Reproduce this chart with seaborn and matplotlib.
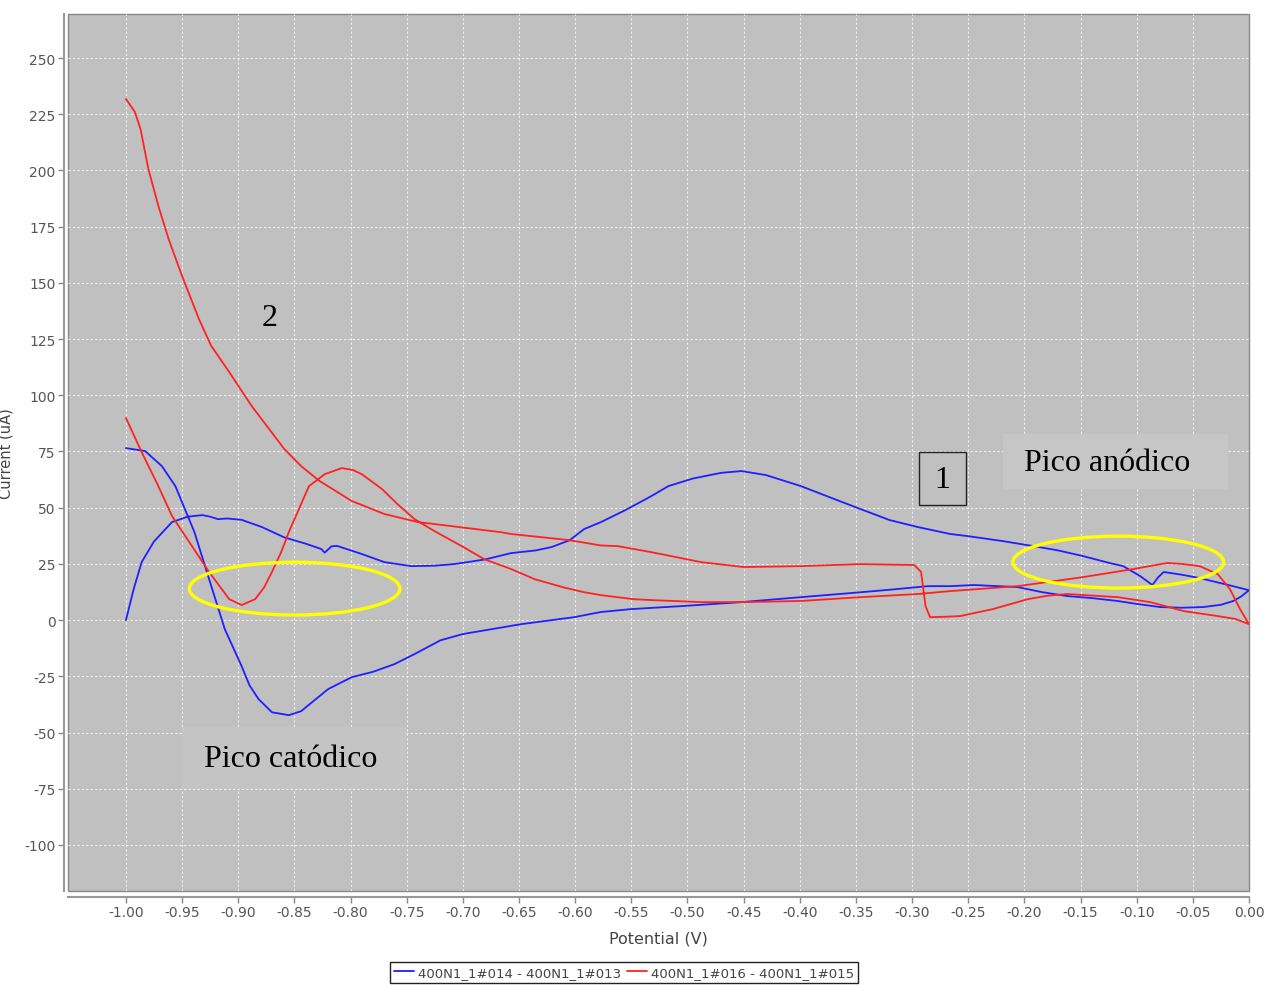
import numpy as np
import pandas as pd
import matplotlib
matplotlib.use("Agg")
import matplotlib.pyplot as plt
from matplotlib.patches import Ellipse, Rectangle
import seaborn as sns

# ---------------- data ----------------
series_names = ["400N1_1#014 - 400N1_1#013", "400N1_1#016 - 400N1_1#015"]

blue_x = [-1.000, -0.993, -0.986, -0.975, -0.959, -0.945, -0.932, -0.925, -0.918, -0.910,
          -0.897, -0.879, -0.859, -0.840, -0.826, -0.823, -0.817, -0.812, -0.790, -0.770,
          -0.746, -0.725, -0.708, -0.680, -0.657, -0.635, -0.621, -0.605, -0.592, -0.577,
          -0.555, -0.532, -0.517, -0.495, -0.470, -0.452, -0.430, -0.399, -0.370, -0.346,
          -0.320, -0.295, -0.266, -0.251, -0.220, -0.192, -0.170, -0.148, -0.125, -0.112,
          -0.097, -0.086, -0.081, -0.076, -0.060, -0.044, -0.020, 0.000,
          -0.007, -0.014, -0.025, -0.041, -0.060, -0.079, -0.100, -0.117, -0.140, -0.162,
          -0.185, -0.206, -0.245, -0.266, -0.286, -0.320, -0.355, -0.399, -0.452, -0.506,
          -0.550, -0.577, -0.601, -0.648, -0.700, -0.720, -0.743, -0.761, -0.780, -0.799,
          -0.820, -0.844, -0.855, -0.870, -0.882, -0.890, -0.897, -0.912, -0.924, -0.939,
          -0.956, -0.968, -0.983, -1.000]
blue_y = [0.0, 14.0, 25.8, 35.0, 43.6, 46.0, 46.7, 46.0, 44.9, 45.2,
          44.6, 41.4, 36.8, 34.0, 31.6, 30.0, 32.8, 33.0, 29.4, 25.8,
          24.0, 24.2, 24.9, 27.0, 29.8, 31.0, 32.5, 35.5, 40.5, 43.6,
          49.0, 55.2, 59.6, 63.0, 65.5, 66.3, 64.5, 59.6, 54.0, 49.4,
          44.5, 41.4, 38.3, 37.4, 35.2, 32.9, 31.0, 28.5, 25.5, 24.0,
          19.6, 15.6, 19.0, 21.4, 20.2, 18.7, 15.8, 13.3,
          10.5, 8.5, 6.8, 5.8, 5.5, 5.8, 7.2, 8.5, 9.8, 10.7,
          12.5, 14.7, 15.6, 15.1, 15.1, 13.5, 12.0, 10.2, 8.0, 6.2,
          4.9, 3.6, 1.3, -1.8, -6.2, -9.0, -15.1, -19.6, -23.0, -25.4,
          -30.7, -40.5, -42.3, -41.0, -35.1, -29.0, -20.5, -4.0, 15.1, 39.1,
          59.6, 68.5, 75.2, 76.5]

red_x = [-1.000, -0.986, -0.972, -0.959, -0.942, -0.926, -0.908, -0.897, -0.885, -0.877,
         -0.870, -0.862, -0.855, -0.845, -0.837, -0.823, -0.808, -0.798, -0.790, -0.772,
         -0.758, -0.743, -0.725, -0.701, -0.681, -0.657, -0.636, -0.610, -0.592, -0.577,
         -0.548, -0.532, -0.488, -0.452, -0.399, -0.346, -0.295, -0.266, -0.206, -0.148,
         -0.103, -0.073, -0.060, -0.044, -0.028, -0.017, -0.008, 0.000,
         -0.012, -0.028, -0.058, -0.088, -0.117, -0.162, -0.180, -0.197, -0.228, -0.257,
         -0.270, -0.284, -0.288, -0.292, -0.298, -0.346, -0.399, -0.450, -0.488, -0.532,
         -0.562, -0.577, -0.606, -0.657, -0.666, -0.725, -0.740, -0.770, -0.799, -0.828,
         -0.844, -0.859, -0.888, -0.908, -0.924, -0.935, -0.950, -0.962, -0.971, -0.980,
         -0.987, -0.992, -1.000]
red_y = [89.9, 74.7, 60.5, 46.3, 33.5, 21.4, 9.3, 6.7, 9.3, 14.5,
         21.4, 30.0, 39.1, 50.5, 59.6, 64.9, 67.6, 66.8, 64.9, 58.3,
         51.5, 44.9, 39.5, 32.9, 27.1, 22.7, 18.2, 14.5, 12.4, 11.1,
         9.3, 8.9, 8.0, 8.0, 8.5, 10.2, 11.6, 12.9, 15.1, 19.1,
         22.7, 25.4, 25.0, 24.0, 20.5, 13.8, 4.9, -1.8,
         0.5, 1.8, 4.0, 8.0, 10.2, 11.6, 10.8, 9.3, 4.9, 1.8,
         1.5, 1.3, 6.2, 21.4, 24.5, 24.9, 24.0, 23.6, 25.8, 30.2,
         32.9, 33.2, 35.6, 38.3, 39.1, 42.7, 43.6, 47.2, 53.0, 62.0,
         68.5, 76.1, 95.2, 110.3, 121.9, 133.9, 153.0, 169.5, 184.0, 200.6,
         218.4, 226.0, 231.8]

x_ticks = [round(-1.0 + 0.05 * i, 2) for i in range(21)]
x_ticklabels = [f"{v:.2f}" for v in x_ticks]
y_ticks = list(range(-100, 251, 25))

# ---------------- build frame ----------------
df = pd.concat([
    pd.DataFrame({"x": blue_x, "y": blue_y, "series": series_names[0]}),
    pd.DataFrame({"x": red_x, "y": red_y, "series": series_names[1]}),
], ignore_index=True)

# ---------------- style ----------------
sns.set_style("whitegrid", {
    "axes.facecolor": "#c0c0c0",
    "grid.color": "#eeeeee",
    "grid.linestyle": (0, (2, 2)),
    "axes.edgecolor": "#888888",
})
plt.rcParams["font.family"] = ["DejaVu Sans"]
plt.rcParams["axes.unicode_minus"] = False

fig = plt.figure(figsize=(12.66, 9.87), dpi=100)
ax = fig.add_axes([68 / 1266, 1 - 892 / 987, (1249 - 68) / 1266, (892 - 15) / 987])

sns.lineplot(data=df, x="x", y="y", hue="series", sort=False, estimator=None,
             palette=["#1f1fff", "#ff2222"], linewidth=1.3, ax=ax)

ax.set_xlim(-1.0516, 0.0)
ax.set_ylim(-120.5, 269.6)
ax.set_xticks(x_ticks)
ax.set_xticklabels(x_ticklabels)
ax.set_yticks(y_ticks)
ax.grid(True, linewidth=0.8)
ax.tick_params(axis="both", colors="#888888", labelcolor="#555555", labelsize=10,
               length=4, width=1, direction="out", left=True, bottom=True, pad=2)

for side in ["top", "right"]:
    ax.spines[side].set_visible(False)
ax.spines["left"].set_position(("outward", 3))
ax.spines["bottom"].set_position(("outward", 4))
ax.spines["left"].set_color("#999999")
ax.spines["bottom"].set_color("#999999")
ax.spines["left"].set_linewidth(1.5)
ax.spines["bottom"].set_linewidth(1.5)
ax.patch.set_edgecolor("#888888")
ax.patch.set_linewidth(1.0)

ax.set_xlabel("Potential (V)", fontsize=11.5, color="#444444", labelpad=8)
ax.set_ylabel("Current (uA)", fontsize=10.5, color="#444444")
ax.yaxis.set_label_coords(-0.046, 0.5)

# ---------------- annotations ----------------
serif = ["Liberation Serif", "DejaVu Serif"]
ax.add_patch(Ellipse((-0.8498, 14.0), 0.1876, 23.5, fill=False, edgecolor="#ffff00",
                     linewidth=2.4, zorder=5))
ax.add_patch(Ellipse((-0.1164, 25.8), 0.1876, 23.1, fill=False, edgecolor="#ffff00",
                     linewidth=2.4, zorder=5))

ax.add_patch(Rectangle((-0.2187, 58.3), 0.2000, 24.4, facecolor="#c6c6c6",
                       edgecolor="none", zorder=3))
ax.text(-0.1262, 70.3, "Pico anódico", family=serif, fontsize=23, color="black",
        ha="center", va="center", zorder=6)

ax.add_patch(Rectangle((-0.9502, -75.2), 0.2000, 27.6, facecolor="#c4c4c4",
                       edgecolor="none", zorder=3))
ax.text(-0.8533, -61.4, "Pico catódico", family=serif, fontsize=23, color="black",
        ha="center", va="center", zorder=6)

ax.text(-0.872, 134.8, "2", family=serif, fontsize=23, color="black",
        ha="center", va="center", zorder=6)

ax.add_patch(Rectangle((-0.2942, 51.2), 0.0418, 23.5, facecolor="none",
                       edgecolor="#222222", linewidth=1.0, zorder=6))
ax.text(-0.2733, 62.5, "1", family=serif, fontsize=23, color="black",
        ha="center", va="center", zorder=6)

# ---------------- legend ----------------
sns.move_legend(ax, "upper center", bbox_to_anchor=(0.4708, -0.0735), ncol=2,
                title=None, frameon=True, fontsize=9.5, handlelength=1.5,
                handletextpad=0.3, columnspacing=0.5, borderpad=0.3,
                fancybox=False, framealpha=1.0)
leg = ax.get_legend()
leg.get_frame().set_edgecolor("#222222")
leg.get_frame().set_linewidth(1.0)
leg.get_frame().set_facecolor("white")
for t in leg.get_texts():
    t.set_color("#444444")
for h in leg.get_lines():
    h.set_linewidth(1.3)

fig.savefig("out.png", dpi=100)
